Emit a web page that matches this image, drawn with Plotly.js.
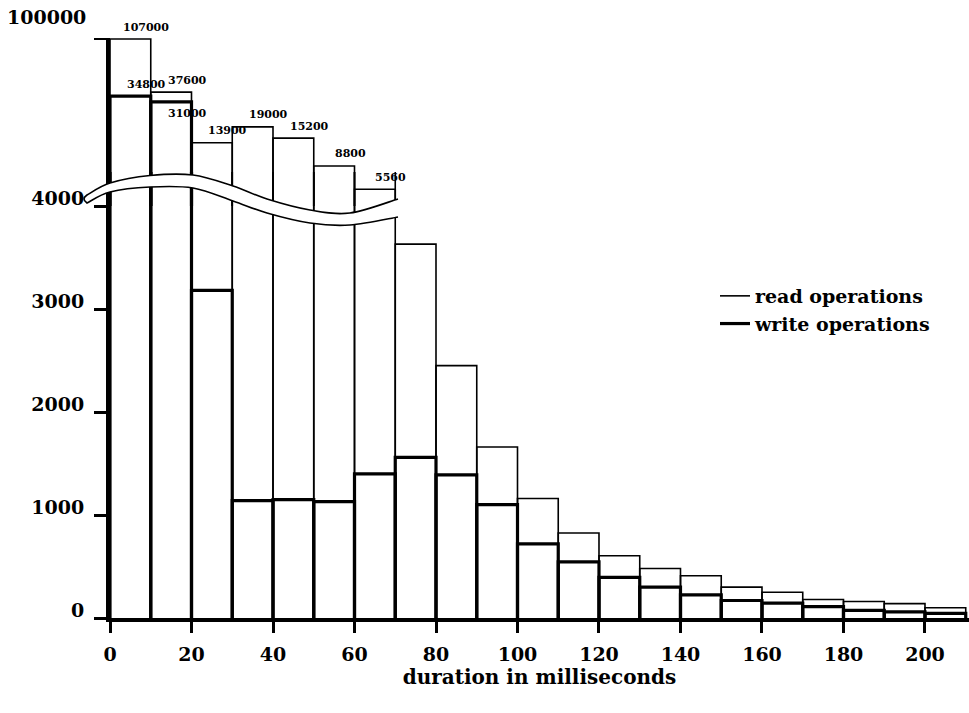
<!DOCTYPE html>
<html>
<head>
<meta charset="utf-8">
<script src="https://cdn.plot.ly/plotly-3.0.1.min.js"></script>
<style>html,body{margin:0;padding:0;background:#fff;}</style>
</head>
<body>
<div id="chart" style="width:969px;height:713px;"></div>
<script>
// ---- data (bins of 10 ms) ----
const binStart = [0,10,20,30,40,50,60,70,80,90,100,110,120,130,140,150,160,170,180,190,200];
const binWidth = 10;
const readOps  = [107000,37600,13900,19000,15200,8800,5560,3630,2450,1660,1160,825,605,480,410,300,250,180,160,140,100];
const writeOps = [34800,31000,3180,1140,1150,1130,1400,1560,1390,1100,720,545,395,300,225,170,145,110,75,60,45];
const xTickVals = [0,20,40,60,80,100,120,140,160,180,200];
const yTickVals = [0,1000,2000,3000,4000];
const breakValue = 4000;
const seriesNames = ['read operations','write operations'];

// ---- helpers ----
function outline(vals, base, keep) {
  const xs = [], ys = [];
  vals.forEach((v, i) => {
    if (!keep(v)) return;
    const a = binStart[i], b = a + binWidth;
    xs.push(a, a, b, b, null);
    ys.push(base, v, v, base, null);
  });
  return {xs, ys};
}
const FONT = 'DejaVu Serif, Liberation Serif, serif';
const readLo = outline(readOps, 0, () => true);
const writeLo = outline(writeOps, 0, () => true);
const readHi = outline(readOps, 1000, v => v > breakValue);
const writeHi = outline(writeOps, 1000, v => v > breakValue);

const READ_W = 1.6, WRITE_W = 3.2;
const traces = [
  {x: readLo.xs, y: readLo.ys, xaxis:'x', yaxis:'y', type:'scatter', mode:'lines',
   name: seriesNames[0], line:{color:'#000', width:READ_W}, hoverinfo:'skip'},
  {x: writeLo.xs, y: writeLo.ys, xaxis:'x', yaxis:'y', type:'scatter', mode:'lines',
   name: seriesNames[1], line:{color:'#000', width:WRITE_W}, hoverinfo:'skip'},
  {x: readHi.xs, y: readHi.ys, xaxis:'x', yaxis:'y2', type:'scatter', mode:'lines',
   showlegend:false, line:{color:'#000', width:READ_W}, hoverinfo:'skip'},
  {x: writeHi.xs, y: writeHi.ys, xaxis:'x', yaxis:'y2', type:'scatter', mode:'lines',
   showlegend:false, line:{color:'#000', width:WRITE_W}, hoverinfo:'skip'}
];

// ---- geometry (pixels -> paper) ----
const ML = 110, MT = 38, MB = 95, FW = 969, FH = 713;
const PW = FW - ML, PH = FH - MT - MB, BOT = FH - MB;
const px = p => (p - ML) / PW;
const py = p => (BOT - p) / PH;
const lowerTopPx = 172, upperBotPx = 206;
const lowerDomTop = py(lowerTopPx);
const upperDomBot = py(upperBotPx);
const lowerRangeTop = breakValue * (BOT - lowerTopPx) / (BOT - upperBotPx);
const pxPerDecade = 117;
const upperRange = [Math.log10(breakValue), Math.log10(breakValue) + (upperBotPx - MT) / pxPerDecade];

// value labels on the broken upper part
const annotations = [];
binStart.forEach((s, i) => {
  const c = s + binWidth / 2;
  if (readOps[i] > breakValue) {
    annotations.push({x:c, y:Math.log10(readOps[i]), xref:'x', yref:'y2', text:String(readOps[i]),
      showarrow:false, xshift:16, yshift:12, font:{family:FONT, size:11, color:'#000', weight:'bold'}});
  }
  if (writeOps[i] > breakValue) {
    const below = readOps[i] < 1.5 * writeOps[i];
    annotations.push({x:c, y:Math.log10(writeOps[i]), xref:'x', yref:'y2', text:String(writeOps[i]),
      showarrow:false, xshift:16, yshift: below ? -12 : 12, font:{family:FONT, size:11, color:'#000', weight:'bold'}});
  }
});
annotations.push({x:px(88), y:py(17), xref:'paper', yref:'paper', xanchor:'right', yanchor:'middle',
  text:'100000', showarrow:false, font:{family:FONT, size:19, color:'#000', weight:'bold'}});

// axis-break band (decoration)
const upperCurve = [[87,195],[110,183],[150,175.5],[193,175],[233,186],[267,199],[310,210],[350,213],[398,199]];
const lowerCurve = [[87,203],[110,192],[150,187],[193,188],[233,201],[267,213],[310,223],[350,225],[398,217]];
const P = p => `${px(p[0]).toFixed(5)},${py(p[1]).toFixed(5)}`;
function smooth(pts) {
  let d = '';
  for (let i = 0; i < pts.length - 1; i++) {
    const p0 = pts[i-1] || pts[i], p1 = pts[i], p2 = pts[i+1], p3 = pts[i+2] || pts[i+1];
    const c1 = [p1[0] + (p2[0]-p0[0])/6, p1[1] + (p2[1]-p0[1])/6];
    const c2 = [p2[0] - (p3[0]-p1[0])/6, p2[1] - (p3[1]-p1[1])/6];
    d += ` C ${P(c1)} ${P(c2)} ${P(p2)}`;
  }
  return d;
}
const lowerRev = lowerCurve.slice().reverse();
const tip = ` Q ${P([81,199])} ${P(upperCurve[0])}`;
const fillPath = `M ${P(lowerRev[0])}` + smooth(lowerRev) + tip + smooth(upperCurve) + ` L ${P([402,199])} L ${P([402,217])} Z`;
const strokePath = `M ${P(lowerRev[0])}` + smooth(lowerRev) + tip + smooth(upperCurve);
const shapes = [
  {type:'path', xref:'paper', yref:'paper', path:fillPath, fillcolor:'#fff', line:{width:0}, layer:'above'},
  {type:'path', xref:'paper', yref:'paper', path:strokePath, fillcolor:'rgba(0,0,0,0)', line:{color:'#000', width:1.6}, layer:'above'}
];

const tickFont = {family:FONT, size:19, color:'#000', weight:'bold'};
const layout = {
  width:FW, height:FH,
  margin:{l:ML, r:0, t:MT, b:MB, pad:0},
  paper_bgcolor:'#fff', plot_bgcolor:'rgba(0,0,0,0)',
  showlegend:true,
  legend:{x:px(715), y:py(277), xanchor:'left', yanchor:'top', bgcolor:'rgba(0,0,0,0)',
    font:{family:FONT, size:19, color:'#000', weight:'bold'}, tracegroupgap:0},
  xaxis:{range:[0, 210.8], tickvals:xTickVals, ticks:'outside', ticklen:11, tickwidth:3, tickcolor:'#000',
    showline:true, linewidth:4, linecolor:'#000', showgrid:false, zeroline:false,
    tickfont:tickFont, anchor:'y', ticklabelstandoff:5,
    title:{text:'duration in milliseconds', font:{family:FONT, size:20, color:'#000', weight:'bold'}, standoff:6}},
  yaxis:{domain:[0, lowerDomTop], range:[0, lowerRangeTop], tickvals:yTickVals, ticks:'outside', ticklen:12, tickwidth:3,
    tickcolor:'#000', showline:true, linewidth:4, linecolor:'#000', showgrid:false, zeroline:false,
    tickfont:tickFont, ticklabelshift:-8, ticklabelstandoff:6, anchor:'x'},
  yaxis2:{domain:[upperDomBot, 1], type:'log', range:upperRange, tickvals:[107000], ticktext:[''],
    ticks:'outside', ticklen:12, tickwidth:2, tickcolor:'#000', showline:true, linewidth:4, linecolor:'#000',
    showgrid:false, zeroline:false, anchor:'x'},
  annotations, shapes
};
Plotly.newPlot('chart', traces, layout, {staticPlot:true, displayModeBar:false});
</script>
</body>
</html>
